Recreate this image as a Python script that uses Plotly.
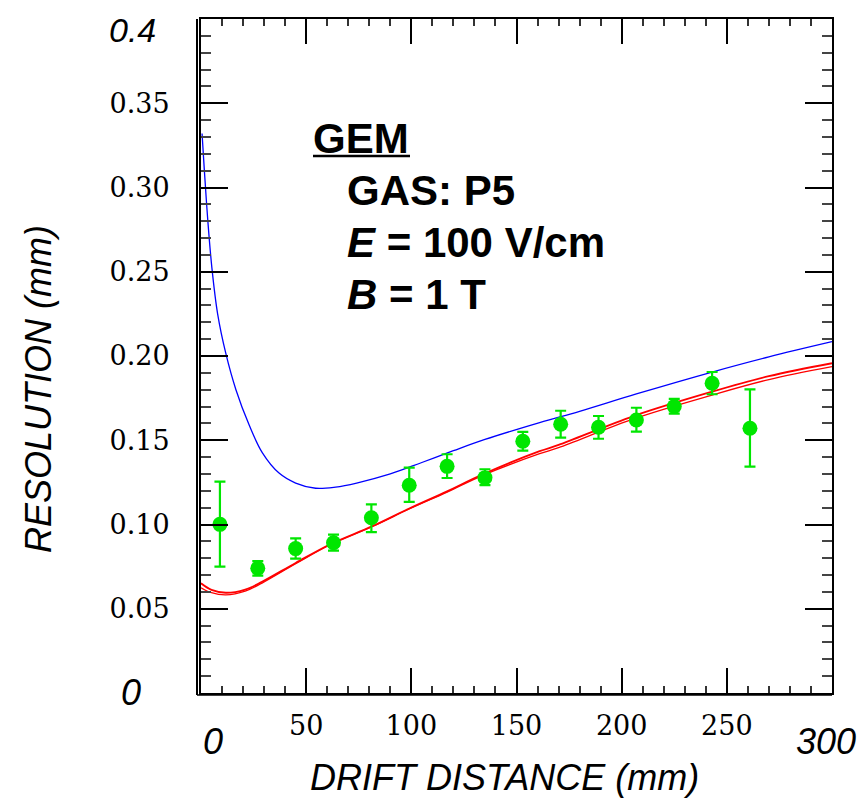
import plotly.graph_objects as go

# ---- data ----
dist = [9, 27, 45, 63, 81, 99, 117, 135, 153, 171, 189, 207, 225, 243, 261]
res = [0.1001, 0.0740, 0.0857, 0.0892, 0.1040, 0.1233, 0.1345, 0.1278, 0.1494,
       0.1595, 0.1577, 0.1620, 0.1700, 0.1838, 0.1571]
res_hi = [0.1254, 0.0783, 0.0918, 0.0940, 0.1120, 0.1337, 0.1417, 0.1328, 0.1550,
          0.1675, 0.1644, 0.1693, 0.1745, 0.1905, 0.1802]
res_lo = [0.0750, 0.0696, 0.0797, 0.0845, 0.0955, 0.1134, 0.1276, 0.1234, 0.1438,
          0.1515, 0.1509, 0.1551, 0.1658, 0.1773, 0.1343]

blue_x = [0.5, 1.6, 3.2, 5.2, 7.9, 11.8, 16.6, 22.9, 29.2, 37.1, 45, 54.5, 64, 74,
          90, 105, 120, 135, 161, 180, 207, 243, 270, 300]
blue_y = [0.332, 0.310, 0.281, 0.252, 0.225, 0.2015, 0.180, 0.159, 0.1425, 0.1305,
          0.1246, 0.1215, 0.1222, 0.1246, 0.1300, 0.1368, 0.1438, 0.1505, 0.1605,
          0.1672, 0.1775, 0.1905, 0.1995, 0.2085]

red_x = [0, 5, 11.8, 21, 29, 45, 61, 81.5, 99, 117, 134, 161, 170, 206, 243, 270, 300]
red1_y = [0.0651, 0.0612, 0.0595, 0.0614, 0.0660, 0.0772, 0.0880, 0.0990, 0.1095,
          0.1197, 0.1298, 0.1435, 0.1472, 0.1645, 0.1788, 0.1880, 0.1957]
red2_y = [0.0625, 0.0595, 0.0582, 0.0604, 0.0652, 0.0767, 0.0877, 0.0988, 0.1092,
          0.1192, 0.1292, 0.1420, 0.1456, 0.1628, 0.1768, 0.1860, 0.1937]

x_ticks = [50, 100, 150, 200, 250]
y_ticks = [0.05, 0.10, 0.15, 0.20, 0.25, 0.30, 0.35]

# ---- figure ----
GREEN = "#00e600"
fig = go.Figure()
fig.add_trace(go.Scatter(x=blue_x, y=blue_y, mode="lines",
                         line=dict(color="#0000ff", width=1.3, shape="spline", smoothing=1.0),
                         showlegend=False, hoverinfo="skip"))
fig.add_trace(go.Scatter(x=red_x, y=red1_y, mode="lines",
                         line=dict(color="#ff0000", width=1.8, shape="spline", smoothing=1.0),
                         showlegend=False, hoverinfo="skip"))
fig.add_trace(go.Scatter(x=red_x, y=red2_y, mode="lines",
                         line=dict(color="#ff0000", width=1.3, shape="spline", smoothing=1.0),
                         showlegend=False, hoverinfo="skip"))
fig.add_trace(go.Scatter(
    x=dist, y=res, mode="markers",
    marker=dict(color=GREEN, size=15),
    error_y=dict(type="data", symmetric=False,
                 array=[h - v for h, v in zip(res_hi, res)],
                 arrayminus=[v - l for v, l in zip(res, res_lo)],
                 color=GREEN, thickness=2.2, width=5.5),
    showlegend=False))

SERIF = dict(family="DejaVu Serif", size=27, color="black")

fig.update_xaxes(range=[0, 300], tickmode="array", tickvals=x_ticks,
                 ticktext=[str(v) for v in x_ticks], tickfont=SERIF,
                 ticks="inside", ticklen=25, tickwidth=1.5, tickcolor="black",
                 minor=dict(tickmode="linear", tick0=0, dtick=10, ticks="inside",
                            ticklen=7, tickwidth=1.5, tickcolor="#333"),
                 showline=True, linecolor="black", linewidth=2, mirror="allticks",
                 showgrid=False, zeroline=False, ticklabelstandoff=8)
fig.update_yaxes(range=[0, 0.4], tickmode="array", tickvals=y_ticks,
                 ticktext=["%.2f" % v for v in y_ticks], tickfont=SERIF,
                 ticks="inside", ticklen=27, tickwidth=1.5, tickcolor="black",
                 minor=dict(tickmode="linear", tick0=0, dtick=0.01, ticks="inside",
                            ticklen=10, tickwidth=1.5, tickcolor="#444"),
                 showline=True, linecolor="black", linewidth=2, mirror="allticks",
                 showgrid=False, zeroline=False, ticklabelstandoff=24)

# page body has an 8px margin: the figure is drawn at (8, 8) in the window
OFF = 8
W, H = 866 - OFF, 802 - OFF
L, T = 201 - OFF, 19 - OFF
PW, PH = 631, 674
R, B = W - L - PW, H - T - PH


def px(x):
    return (x - OFF - L) / PW


def py(y):
    return (H - B - (y - OFF)) / PH


ITAL = dict(family="Liberation Sans, Arial", size=36, color="black")
ann = []
ann.append(dict(text="<i>0.4</i>", x=px(158), y=py(30), xanchor="right", yanchor="middle",
                font=dict(family="Liberation Sans, Arial", size=34, color="black")))
ann.append(dict(text="<i>0</i>", x=px(143), y=py(692), xanchor="right", yanchor="middle", font=ITAL))
ann.append(dict(text="<i>0</i>", x=px(213), y=py(741), xanchor="center", yanchor="middle", font=ITAL))
ann.append(dict(text="<i>300</i>", x=px(826), y=py(741), xanchor="center", yanchor="middle", font=ITAL))
ann.append(dict(text="<i>DRIFT DISTANCE (mm)</i>", x=px(504), y=py(777), xanchor="center",
                yanchor="middle", font=ITAL))
ann.append(dict(text="<i>RESOLUTION (mm)</i>", x=px(38), y=py(389), xanchor="center",
                yanchor="middle", textangle=-90, font=ITAL))

BOLD = dict(family="Liberation Sans, Arial", size=42, color="black")
ann.append(dict(text="<b>GEM</b>", x=px(311), y=py(138), xanchor="left", yanchor="middle", font=BOLD))
ann.append(dict(text="<b>GAS: P5</b>", x=px(345), y=py(190), xanchor="left", yanchor="middle", font=BOLD))
ann.append(dict(text="<b><i>E</i> = 100 V/cm</b>", x=px(345), y=py(242), xanchor="left", yanchor="middle", font=BOLD))
ann.append(dict(text="<b><i>B</i> = 1 T</b>", x=px(345), y=py(294), xanchor="left", yanchor="middle", font=BOLD))
for a in ann:
    a.update(xref="paper", yref="paper", showarrow=False)

shapes = [
    dict(type="line", xref="paper", yref="paper", x0=px(313), x1=px(410), y0=py(156), y1=py(156),
         line=dict(color="black", width=2.5)),
    dict(type="line", xref="paper", yref="paper", x0=px(197), x1=px(197), y0=py(695), y1=py(19),
         line=dict(color="black", width=2)),
    dict(type="line", xref="paper", yref="paper", x0=px(197), x1=px(832), y0=py(695), y1=py(695),
         line=dict(color="black", width=1.5)),
]

fig.update_layout(width=W, height=H, margin=dict(l=L, r=R, t=T, b=B, autoexpand=False),
                  plot_bgcolor="white", paper_bgcolor="white",
                  annotations=ann, shapes=shapes, showlegend=False)

fig.write_html("out.html")
